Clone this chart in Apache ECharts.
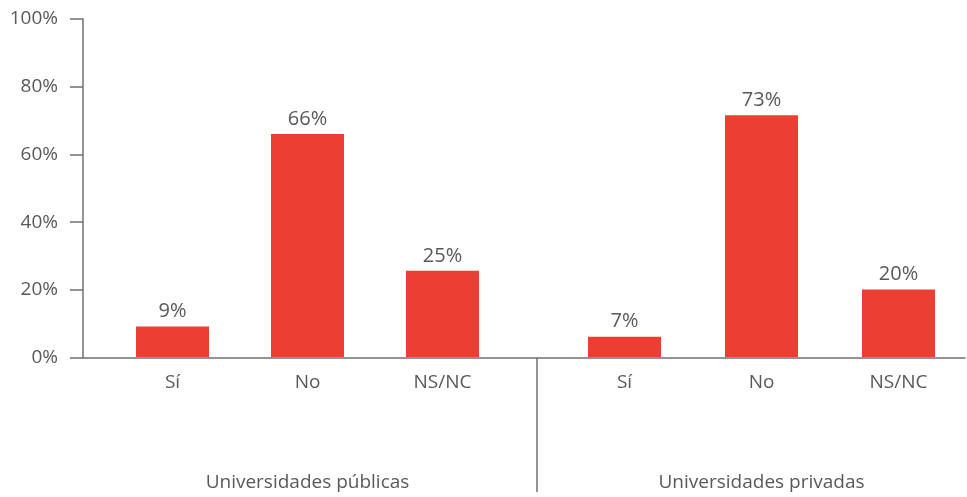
<!DOCTYPE html>
<html>

<head>
    <meta charset="utf-8">
    <script src="https://cdn.jsdelivr.net/npm/echarts@6/dist/echarts.min.js"></script>
    <style>
        html, body { margin: 0; padding: 0; background: #fff; }
        #main { width: 967px; height: 497px; }
    </style>
</head>

<body>
    <div id="main"></div>
    <script type="text/javascript">
        // datos
        var categorias = ['Sí', 'No', 'NS/NC'];
        var grupos = ['Universidades públicas', 'Universidades privadas'];
        var publicas = [9, 66, 25.5];
        var privadas = [6, 71.5, 20];
        var etiquetasPublicas = ['9%', '66%', '25%'];
        var etiquetasPrivadas = ['7%', '73%', '20%'];
        var ticksY = [0, 20, 40, 60, 80, 100];

        var textColor = '#58595b';
        var lineColor = '#707070';
        var barColor = '#ed3e34';
        var fontFamily = '"Open Sans", "Noto Sans", sans-serif';

        var gridTop = 19, gridBottom = 139.5;

        function groupAxis(idx, name) {
            return {
                type: 'category', gridIndex: idx, data: categorias,
                axisLine: { show: false }, axisTick: { show: false },
                axisLabel: { color: textColor, fontSize: 19, fontFamily: fontFamily, margin: 16 },
                name: name, nameLocation: 'middle', nameGap: 116,
                nameTextStyle: { color: textColor, fontSize: 19, fontFamily: fontFamily }
            };
        }

        function hiddenY(idx) {
            return { type: 'value', gridIndex: idx, min: 0, max: 100, show: false };
        }

        function barSeries(idx, values, labels) {
            return {
                type: 'bar', xAxisIndex: idx, yAxisIndex: idx, data: values,
                barWidth: 73, itemStyle: { color: barColor },
                label: {
                    show: true, position: 'top', distance: 5,
                    color: textColor, fontSize: 20, fontFamily: fontFamily,
                    formatter: function (p) { return labels[p.dataIndex]; }
                }
            };
        }

        var myChart = echarts.init(document.getElementById('main'));
        myChart.setOption({
            animation: false,
            grid: [
                { left: 83, right: 2, top: gridTop, bottom: gridBottom },
                { left: 105, width: 405, top: gridTop, bottom: gridBottom },
                { left: 556, width: 417, top: gridTop, bottom: gridBottom }
            ],
            xAxis: [
                {
                    type: 'value', gridIndex: 0, min: 0, max: 1,
                    axisLine: { show: true, lineStyle: { color: lineColor, width: 1.5 } },
                    axisTick: { show: false }, axisLabel: { show: false }, splitLine: { show: false }
                },
                groupAxis(1, grupos[0]),
                groupAxis(2, grupos[1])
            ],
            yAxis: [
                {
                    type: 'value', gridIndex: 0, min: ticksY[0], max: ticksY[ticksY.length - 1], interval: 20,
                    axisLine: { show: true, lineStyle: { color: lineColor, width: 1.5 } },
                    axisTick: { show: true, length: 13, lineStyle: { color: lineColor, width: 1.5 } },
                    splitLine: { show: false },
                    axisLabel: {
                        formatter: '{value}%', color: textColor, fontSize: 19,
                        fontFamily: fontFamily, margin: 25
                    }
                },
                hiddenY(1),
                hiddenY(2)
            ],
            series: [
                barSeries(1, publicas, etiquetasPublicas),
                barSeries(2, privadas, etiquetasPrivadas)
            ],
            graphic: [{
                type: 'line',
                shape: { x1: 537, y1: 357.5, x2: 537, y2: 492 },
                style: { stroke: lineColor, lineWidth: 1.5 }
            }]
        });
    </script>
</body>

</html>
